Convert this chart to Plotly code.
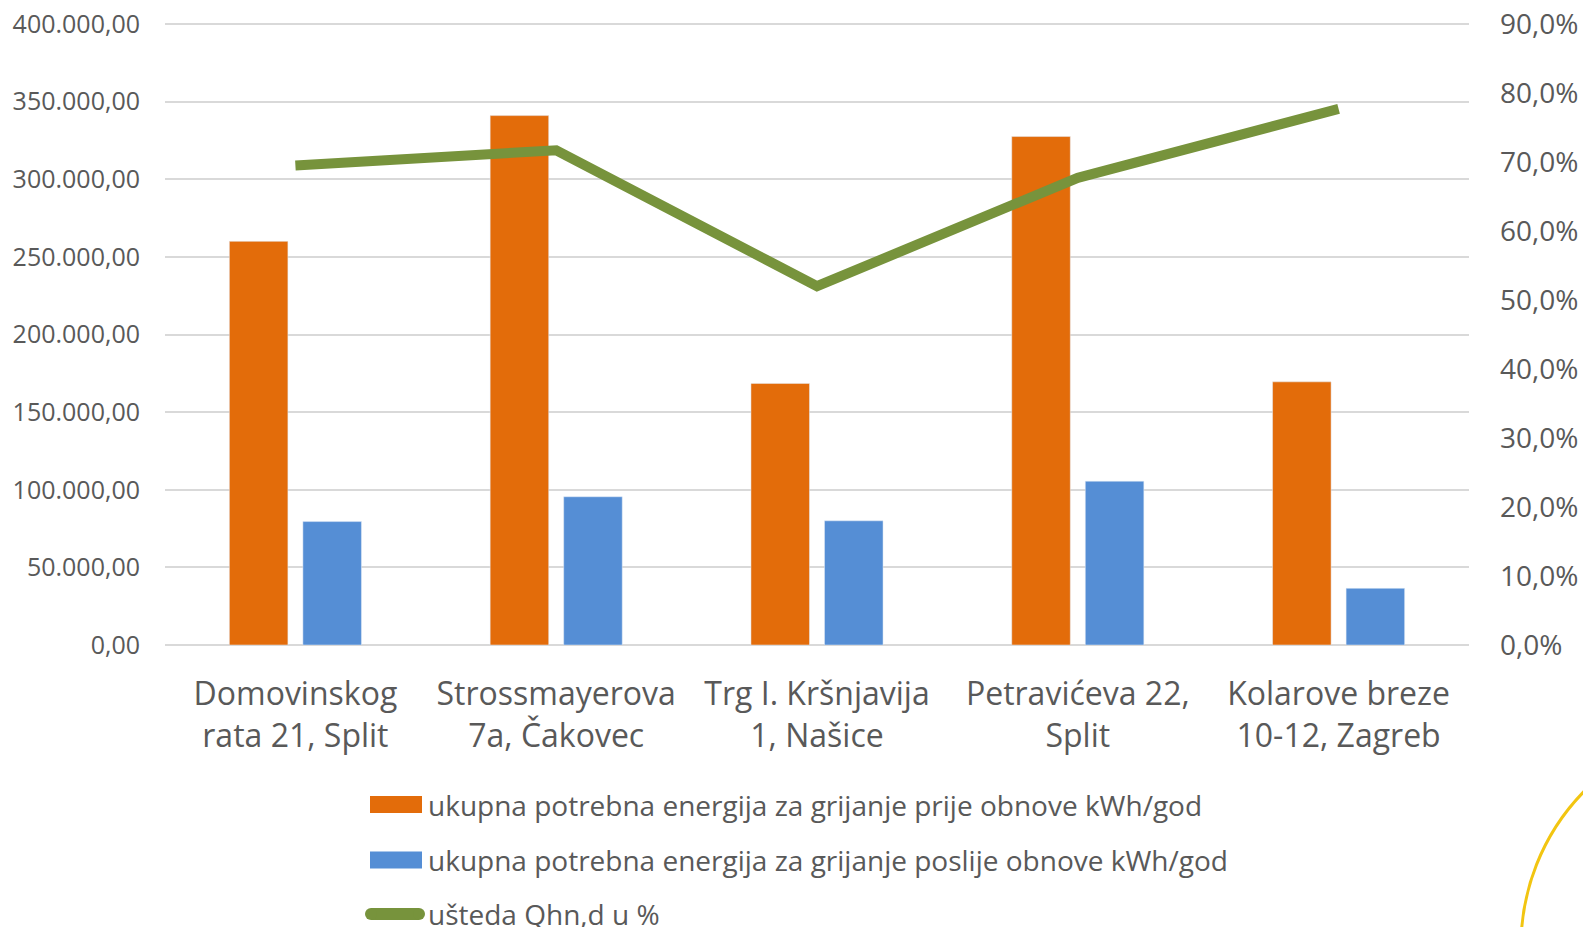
import plotly.graph_objects as go

# ---- data ----
categories = ["Domovinskog<br>rata 21, Split", "Strossmayerova<br>7a, Čakovec", "Trg I. Kršnjavija<br>1, Našice",
              "Petravićeva 22,<br>Split", "Kolarove breze<br>10-12, Zagreb"]
before = [260000, 341000, 168500, 327500, 169500]
after = [79500, 95500, 80000, 105500, 36500]
savings = [0.695, 0.717, 0.520, 0.677, 0.777]
left_ticks = [0, 50000, 100000, 150000, 200000, 250000, 300000, 350000, 400000]
right_ticks = [0, 0.1, 0.2, 0.3, 0.4, 0.5, 0.6, 0.7, 0.8, 0.9]

name_before = "ukupna potrebna energija za grijanje prije obnove kWh/god"
name_after = "ukupna potrebna energija za grijanje poslije obnove kWh/god"
name_sav = "ušteda Qhn,d u %"

ORANGE = "#E36C0A"
BLUE = "#558ED5"
GREEN = "#77933C"
TXT = "#595959"
FONT = "Open Sans"

W, H = 1583, 927
L, R, T, B = 165, 114, 19, 282
PW, PH = W - L - R, H - T - B
# a little headroom above 400.000 so the top gridline is drawn
Y1_MAX = 400000 * (1 + 5 / 621)
Y2_MAX = 0.9 * Y1_MAX / 400000

def px(x):
    return (x - L) / PW

def py(y):
    return (H - B - y) / PH

fig = go.Figure()
fig.add_trace(go.Bar(x=categories, y=before, name=name_before, marker_color=ORANGE, showlegend=False))
fig.add_trace(go.Bar(x=categories, y=after, name=name_after, marker_color=BLUE, showlegend=False))
fig.add_trace(go.Scatter(x=categories, y=savings, name=name_sav, mode="lines", yaxis="y2",
                         line=dict(color=GREEN, width=10), showlegend=False))

shapes = []
annotations = []
# manual legend
items = [(name_before, ORANGE, "rect", 804.5), (name_after, BLUE, "rect", 860), (name_sav, GREEN, "line", 914)]
for name, col, kind, yc in items:
    if kind == "rect":
        shapes.append(dict(type="rect", xref="paper", yref="paper", x0=px(370), x1=px(422),
                           y0=py(yc + 8.5), y1=py(yc - 8.5), fillcolor=col, line=dict(width=0)))
    else:
        shapes.append(dict(type="line", xref="paper", yref="paper", x0=px(371), x1=px(419),
                           y0=py(yc), y1=py(yc), line=dict(color=col, width=12)))
        for cx in (371, 419):
            shapes.append(dict(type="circle", xref="paper", yref="paper", x0=px(cx - 6), x1=px(cx + 6),
                               y0=py(yc + 6), y1=py(yc - 6), fillcolor=col, line=dict(width=0)))
    annotations.append(dict(text=name, xref="paper", yref="paper", x=px(426), y=py(yc), xanchor="left",
                            yanchor="middle", showarrow=False, font=dict(family=FONT, size=28, color=TXT)))

# decorative yellow arc
cx, cy, r = 1742, 946, 221
shapes.append(dict(type="circle", xref="paper", yref="paper", x0=px(cx - r), x1=px(cx + r),
                   y0=py(cy + r), y1=py(cy - r), line=dict(color="#F2C511", width=3), fillcolor="rgba(0,0,0,0)"))

fig.update_layout(
    width=W, height=H,
    margin=dict(l=L, r=R, t=T, b=B, autoexpand=False),
    paper_bgcolor="white", plot_bgcolor="white",
    separators=",.",
    barmode="group", bargap=0.436, bargroupgap=0.204,
    font=dict(family=FONT, color=TXT),
    xaxis=dict(showgrid=False, showline=False, zeroline=False, tickfont=dict(size=32, color=TXT),
               ticks="", ticklabelstandoff=27),
    yaxis=dict(range=[0, Y1_MAX], tickvals=left_ticks,
               tickformat=",.2f", showgrid=True, gridcolor="#D9D9D9",
               gridwidth=1.5, zeroline=True, zerolinecolor="#D9D9D9", zerolinewidth=1.5, showline=False,
               tickfont=dict(size=25, color=TXT), ticklabelstandoff=24),
    yaxis2=dict(range=[0, Y2_MAX], tickvals=right_ticks,
                tickformat=".1%", overlaying="y", side="right", showgrid=False,
                zeroline=False, showline=False, tickfont=dict(size=28, color=TXT), ticklabelstandoff=30),
    shapes=shapes, annotations=annotations, showlegend=False,
)

fig.write_html("out.html", config={"displayModeBar": False},
               post_script="document.body.style.margin='0';document.body.style.overflow='hidden';")
